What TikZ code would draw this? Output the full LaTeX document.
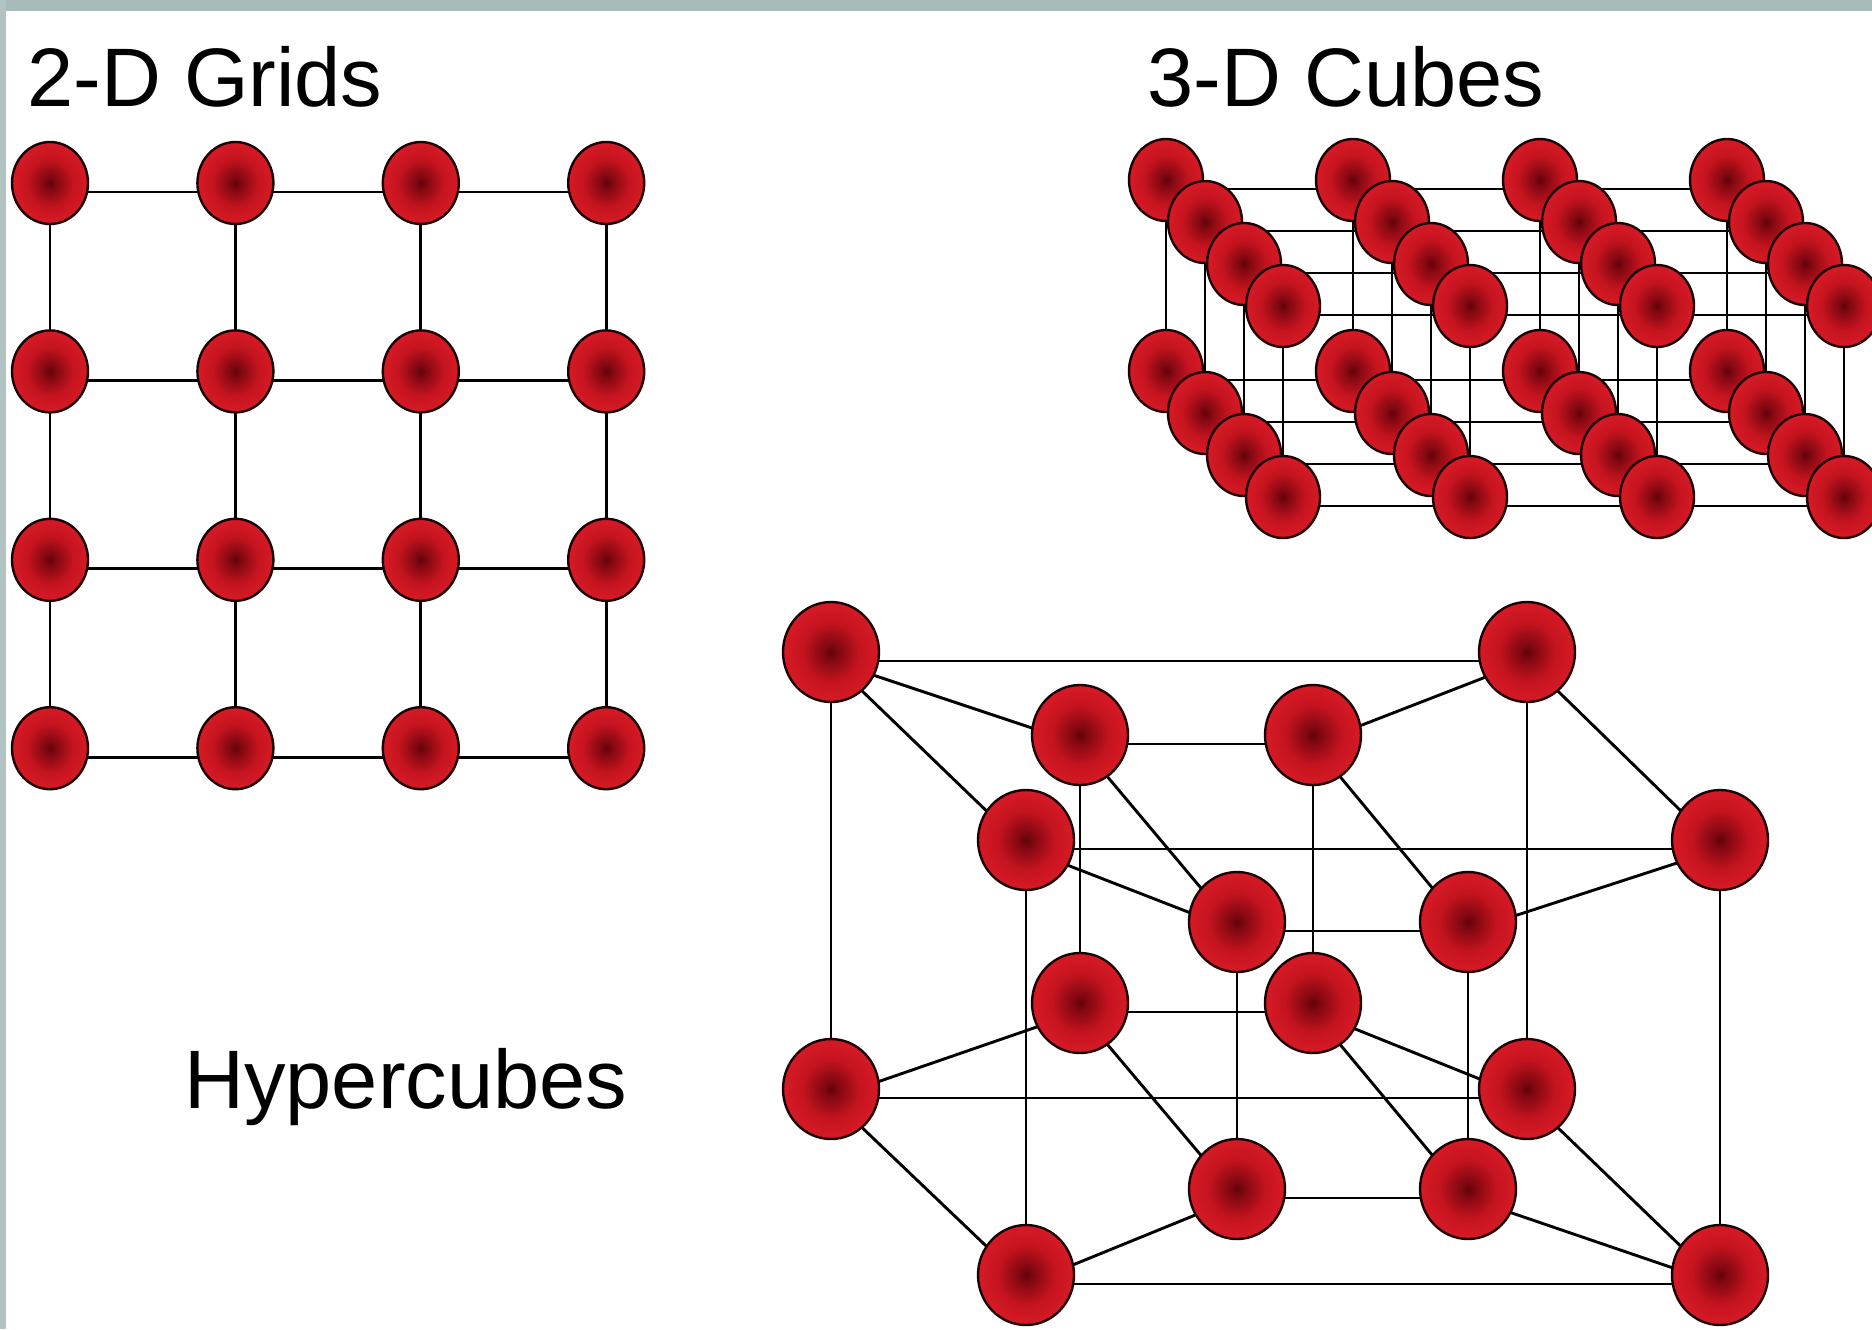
\documentclass[tikz,border=0pt]{standalone}
\usepackage{fontspec}
\setmainfont{Liberation Sans}
\usetikzlibrary{shapes.geometric}

\definecolor{bandtop}{HTML}{A8BBBA}
\definecolor{bandleft}{HTML}{B1C3C2}
\definecolor{balldark}{HTML}{620309}
\definecolor{ballcore}{HTML}{820811}
\definecolor{ballmid}{HTML}{C5141F}
\definecolor{ballred}{HTML}{DC1C28}
\definecolor{ballrim}{HTML}{E8232F}
\definecolor{ballline}{HTML}{1C0002}

\pgfdeclareradialshading{ball}{\pgfpoint{0bp}{0bp}}{%
  color(0bp)=(balldark); color(4bp)=(ballcore); color(15bp)=(ballmid);
  color(28bp)=(ballred); color(50bp)=(ballrim)}

% links sit slightly below the centres of the balls they join
\newcommand\link[2]{\draw[wire] ([yshift=-4.5pt]#1.center) -- ([yshift=-4.5pt]#2.center);}

\begin{document}
\begin{tikzpicture}[x=0.5pt,y=-0.5pt,
  wire/.style={draw=black, line width=1.45pt},
  ball/.style={ellipse, draw=ballline, line width=1.2pt, shading=ball,
               inner sep=0pt, minimum width=38pt, minimum height=41pt},
  bigball/.style={ball, minimum width=48pt, minimum height=50pt},
  title/.style={anchor=base west, inner sep=0pt,
                font=\fontsize{41.5}{50}\selectfont}]

\useasboundingbox (0,0) rectangle (1872,1329);
\clip (0,0) rectangle (1872,1329);
\fill[white] (0,0) rectangle (1872,1329);
\fill[bandtop] (0,0) rectangle (1872,11);
\fill[bandleft] (0,0) rectangle (6,1329);

% ---------- titles ----------
\node[title] (t2d) at (27,106) {2-D Grids};
\node[title] (t3d) at (1147,106) {3-D Cubes};
\node[title] (thc) at (184,1108) {Hypercubes};

% ---------- 2-D grid positions ----------
\foreach \r in {0,...,3}{
  \foreach \c in {0,...,3}{
    \coordinate (gp-\r-\c) at (50+185.4*\c, 183+188.4*\r);
  }
}

% ---------- 3-D cube positions (4 x 4 x 2) ----------
\foreach \l in {0,1}{
  \foreach \c in {0,...,3}{
    \foreach \d in {0,...,3}{
      \coordinate (qp-\l-\c-\d) at (1166+187*\c+39*\d, 180+191*\l+42*\d);
    }
  }
}

% ---------- hypercube positions ----------
\coordinate (pA) at (831,652);   \coordinate (pB) at (1527,652);
\coordinate (pC) at (1026,840);  \coordinate (pD) at (1720,840);
\coordinate (pE) at (831,1089);  \coordinate (pF) at (1527,1089);
\coordinate (pG) at (1026,1275); \coordinate (pH) at (1720,1275);
\coordinate (pa) at (1080,735);  \coordinate (pb) at (1313,735);
\coordinate (pc) at (1237,922);  \coordinate (pd) at (1468,922);
\coordinate (pe) at (1080,1003); \coordinate (pf) at (1313,1003);
\coordinate (pg) at (1237,1189); \coordinate (ph) at (1468,1189);

% ---------- links first, balls on top ----------
\foreach \r in {0,...,3}{
  \foreach \c [evaluate=\c as \cn using int(\c+1)] in {0,1,2}{
    \link{gp-\r-\c}{gp-\r-\cn}
    \link{gp-\c-\r}{gp-\cn-\r}
  }
}

\foreach \l in {0,1}{
  \foreach \d in {0,...,3}{
    \foreach \c [evaluate=\c as \cn using int(\c+1)] in {0,1,2}{
      \link{qp-\l-\c-\d}{qp-\l-\cn-\d}
    }
  }
}
\foreach \c in {0,...,3}{
  \foreach \d in {0,...,3}{
    \link{qp-0-\c-\d}{qp-1-\c-\d}
  }
}

\foreach \u/\v in {A/B,A/C,A/E,A/a,B/D,B/F,B/b,C/D,C/G,C/c,D/H,D/d,E/F,E/G,E/e,F/H,F/f,G/H,G/g,H/h,a/b,a/c,a/e,b/d,b/f,c/d,c/g,d/h,e/f,e/g,f/h,g/h}{
  \link{p\u}{p\v}
}

% ---------- balls ----------
\foreach \r in {0,...,3}{
  \foreach \c in {0,...,3}{
    \node[ball] (g-\r-\c) at (gp-\r-\c) {};
  }
}
\foreach \l in {0,1}{
  \foreach \c in {0,...,3}{
    \foreach \d in {0,...,3}{
      \node[ball, minimum width=37pt] (q-\l-\c-\d) at (qp-\l-\c-\d) {};
    }
  }
}
\foreach \n in {A,B,C,D,E,F,G,H,a,b,c,d,e,f,g,h}{
  \node[bigball] (h\n) at (p\n) {};
}

\end{tikzpicture}
\end{document}
